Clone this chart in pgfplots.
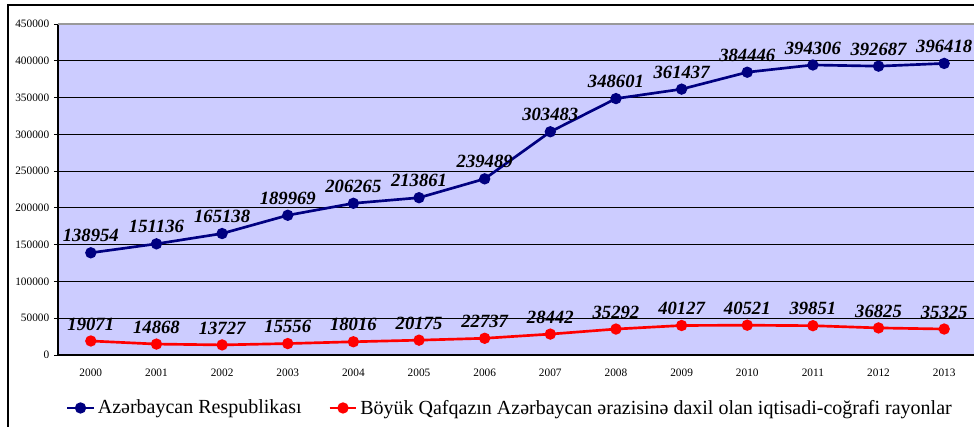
\documentclass[border=0pt]{standalone}
\usepackage{pgfplots}
\pgfplotsset{compat=1.18}
\usepackage{fontspec}
\setmainfont{Liberation Serif}
\definecolor{bgl}{RGB}{204,204,255}
\definecolor{navyb}{RGB}{0,0,128}
\begin{document}
\begin{tikzpicture}[x=0.75pt,y=0.75pt]
\useasboundingbox (-58,-71) rectangle (916,355);
\clip (-58,-71) rectangle (916,355);
\draw[line width=1.2pt] (-50,-90) -- (-50,350) -- (950,350);
\begin{axis}[
  at={(0pt,0pt)}, anchor=south west,
  scale only axis, width=689.25pt, height=248.25pt,
  xmin=-0.5, xmax=13.5, ymin=0, ymax=450000,
  axis background/.style={fill=bgl},
  axis x line*=bottom, axis y line*=left,
  axis line style={black, line width=0.8pt},
  /pgf/number format/assume math mode=true,
  /pgf/number format/fixed,
  /pgf/number format/precision=0,
  /pgf/number format/1000 sep={},
  scaled y ticks=false,
  ytick={0,50000,...,400000},
  extra y ticks={450000},
  extra y tick style={grid style={gray!80, line width=1pt}},
  ymajorgrids, grid style={black, line width=0.6pt},
  tick align=outside, major tick length=3pt, minor tick length=4pt,
  xtick={0,...,13},
  xticklabels={2000,2001,2002,2003,2004,2005,2006,2007,2008,2009,2010,2011,2012,2013},
  xtick style={draw=none},
  minor xtick={-0.5,0.5,...,13.5},
  minor x tick style={black, line width=0.6pt},
  ytick style={black, line width=0.6pt},
  ticklabel style={font=\fontsize{8.5}{10}\selectfont},
  xticklabel style={yshift=-4pt},
  every axis plot/.append style={line width=2pt, mark=*, mark size=3.2pt},
  nodes near coords={\pgfmathprintnumber[fixed,precision=0,1000 sep={},assume math mode=true]{\pgfplotspointmeta}},
  every node near coord/.append style={text=black, font=\fontsize{14}{14}\selectfont\bfseries\itshape, anchor=south, inner sep=1pt, yshift=6pt},
  legend style={at={(0.492,-0.16)}, anchor=center, draw=none, fill=none, font=\fontsize{15}{16}\selectfont, legend columns=2, /tikz/every even column/.append style={column sep=18pt}},
  legend image code/.code={\draw[mark repeat=2,mark phase=2] plot coordinates {(0pt,0pt) (10pt,0pt) (20pt,0pt)};},
]
\addplot[color=navyb, mark options={fill=navyb}] coordinates {
(0,138954) (1,151136) (2,165138) (3,189969) (4,206265) (5,213861) (6,239489)
(7,303483) (8,348601) (9,361437) (10,384446) (11,394306) (12,392687) (13,396418)};
\addlegendentry{Azərbaycan Respublikası}
\addplot[color=red, mark options={fill=red}] coordinates {
(0,19071) (1,14868) (2,13727) (3,15556) (4,18016) (5,20175) (6,22737)
(7,28442) (8,35292) (9,40127) (10,40521) (11,39851) (12,36825) (13,35325)};
\addlegendentry{Böyük Qafqazın Azərbaycan ərazisinə daxil olan iqtisadi-coğrafi rayonlar}
\end{axis}
\end{tikzpicture}
\end{document}
